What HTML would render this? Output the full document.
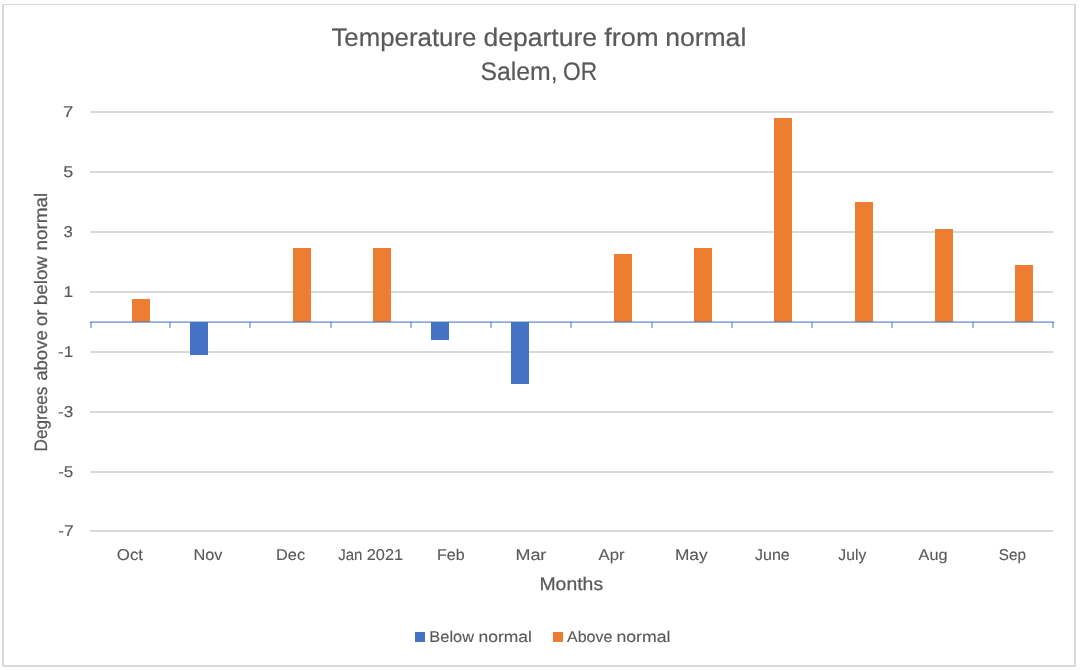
<!DOCTYPE html>
<html lang="en"><head><meta charset="utf-8"><title>Temperature departure from normal - Salem, OR</title>
<style>html,body{margin:0;padding:0;background:#fff;}body{width:1080px;height:670px;overflow:hidden;}svg{display:block;}text{font-family:"Liberation Sans",sans-serif;fill:#595959;stroke:#595959;text-rendering:geometricPrecision;}.title{font-size:25.4px;stroke-width:.2px}.lab{font-size:15.6px;stroke-width:.12px}.axt{font-size:18px;stroke-width:.25px}</style>
</head><body>
<svg width="1080" height="670" viewBox="0 0 1080 670">
<rect x="0" y="0" width="1080" height="670" fill="#ffffff"/>
<g fill="#d9d9d9" shape-rendering="crispEdges">
<rect x="2" y="4" width="1074" height="1"/>
<rect x="2" y="665" width="1074" height="2"/>
<rect x="2" y="4" width="2" height="663"/>
<rect x="1074" y="4" width="2" height="663"/>
<rect x="2" y="666" width="1" height="1" fill="#f2f2f2"/>
<rect x="1075" y="666" width="1" height="1" fill="#f2f2f2"/>
<rect x="90" y="111" width="963" height="2"/>
<rect x="90" y="171" width="963" height="2"/>
<rect x="90" y="231" width="963" height="2"/>
<rect x="90" y="291" width="963" height="2"/>
<rect x="90" y="351" width="963" height="2"/>
<rect x="90" y="411" width="963" height="2"/>
<rect x="90" y="471" width="963" height="2"/>
<rect x="90" y="530" width="963" height="2"/>
</g>
<g shape-rendering="crispEdges">
<rect x="132" y="299" width="18" height="23" fill="#ed7d31"/>
<rect x="190" y="322" width="18" height="33" fill="#4472c4"/>
<rect x="293" y="248" width="18" height="74" fill="#ed7d31"/>
<rect x="373" y="248" width="18" height="74" fill="#ed7d31"/>
<rect x="431" y="322" width="18" height="18" fill="#4472c4"/>
<rect x="511" y="322" width="18" height="62" fill="#4472c4"/>
<rect x="614" y="254" width="18" height="68" fill="#ed7d31"/>
<rect x="694" y="248" width="18" height="74" fill="#ed7d31"/>
<rect x="774" y="118" width="18" height="204" fill="#ed7d31"/>
<rect x="855" y="202" width="18" height="120" fill="#ed7d31"/>
<rect x="935" y="229" width="18" height="93" fill="#ed7d31"/>
<rect x="1015" y="265" width="18" height="57" fill="#ed7d31"/>
</g>
<g fill="#4472c4" shape-rendering="crispEdges">
<rect x="90" y="321" width="964" height="1" fill-opacity="0.45"/>
<rect x="90" y="322" width="964" height="1" fill-opacity="0.6"/>
<rect x="90" y="322" width="2" height="6" fill-opacity="0.5"/>
<rect x="169" y="322" width="2" height="6" fill-opacity="0.5"/>
<rect x="249" y="322" width="2" height="6" fill-opacity="0.5"/>
<rect x="330" y="322" width="2" height="6" fill-opacity="0.5"/>
<rect x="410" y="322" width="2" height="6" fill-opacity="0.5"/>
<rect x="490" y="322" width="2" height="6" fill-opacity="0.5"/>
<rect x="570" y="322" width="2" height="6" fill-opacity="0.5"/>
<rect x="651" y="322" width="2" height="6" fill-opacity="0.5"/>
<rect x="731" y="322" width="2" height="6" fill-opacity="0.5"/>
<rect x="811" y="322" width="2" height="6" fill-opacity="0.5"/>
<rect x="891" y="322" width="2" height="6" fill-opacity="0.5"/>
<rect x="972" y="322" width="2" height="6" fill-opacity="0.5"/>
<rect x="1052" y="322" width="2" height="6" fill-opacity="0.5"/>
</g>
<rect x="415" y="632" width="10" height="10" fill="#4472c4" shape-rendering="crispEdges"/>
<rect x="553" y="632" width="10" height="10" fill="#ed7d31" shape-rendering="crispEdges"/>
<text class="title" transform="matrix(1.0165 0 0 1 331.47 46)">Temperature</text>
<text class="title" transform="matrix(1.0456 0 0 1 483.47 46)">departure</text>
<text class="title" transform="matrix(1.0708 0 0 1 604.26 46)">from</text>
<text class="title" transform="matrix(1.0456 0 0 1 665.13 46)">normal</text>
<text class="title" transform="matrix(0.9769 0 0 1 480.41 79.8)">Salem,</text>
<text class="title" transform="matrix(0.8959 0 0 1 563.11 79.8)">OR</text>
<text class="lab" transform="matrix(1.1827 0 0 1 63.03 117.1)">7</text>
<text class="lab" transform="matrix(1.1515 0 0 1 63.22 177.1)">5</text>
<text class="lab" transform="matrix(1.0696 0 0 1 63.55 237.1)">3</text>
<text class="lab" transform="matrix(1.1138 0 0 1 63.40 297.1)">1</text>
<text class="lab" transform="matrix(1.0988 0 0 1 58.06 357.1)">-1</text>
<text class="lab" transform="matrix(1.0992 0 0 1 58.06 417.1)">-3</text>
<text class="lab" transform="matrix(1.0911 0 0 1 58.17 477.1)">-5</text>
<text class="lab" transform="matrix(1.1163 0 0 1 58.24 536.1)">-7</text>
<text class="lab" transform="matrix(1.0797 0 0 1 116.83 560.2)">Oct</text>
<text class="lab" transform="matrix(1.0476 0 0 1 193.43 560.2)">Nov</text>
<text class="lab" transform="matrix(1.0501 0 0 1 275.98 560.2)">Dec</text>
<text class="lab" transform="matrix(0.9643 0 0 1 338.23 560.2)">Jan</text>
<text class="lab" transform="matrix(1.0469 0 0 1 366.72 560.2)">2021</text>
<text class="lab" transform="matrix(1.0250 0 0 1 437.06 560.2)">Feb</text>
<text class="lab" transform="matrix(1.1491 0 0 1 515.46 560.2)">Mar</text>
<text class="lab" transform="matrix(1.0736 0 0 1 598.58 560.2)">Apr</text>
<text class="lab" transform="matrix(1.1096 0 0 1 674.89 560.2)">May</text>
<text class="lab" transform="matrix(1.0256 0 0 1 755.00 560.2)">June</text>
<text class="lab" transform="matrix(1.0067 0 0 1 838.32 560.2)">July</text>
<text class="lab" transform="matrix(1.0395 0 0 1 918.60 560.2)">Aug</text>
<text class="lab" transform="matrix(0.9762 0 0 1 998.79 560.2)">Sep</text>
<text class="axt" transform="matrix(1.0785 0 0 1 539.45 589.9)">Months</text>
<text class="lab" transform="matrix(1.0501 0 0 1 429.37 641.8)">Below</text>
<text class="lab" transform="matrix(1.1192 0 0 1 478.47 641.8)">normal</text>
<text class="lab" transform="matrix(1.0231 0 0 1 567.03 641.8)">Above</text>
<text class="lab" transform="matrix(1.1362 0 0 1 616.39 641.8)">normal</text>
<text class="axt" transform="matrix(0 -0.9523 1 0 47.2 451.42)">Degrees</text>
<text class="axt" transform="matrix(0 -1.0333 1 0 47.2 380.83)">above</text>
<text class="axt" transform="matrix(0 -1.0138 1 0 47.2 325.90)">or</text>
<text class="axt" transform="matrix(0 -1.0430 1 0 47.2 305.15)">below</text>
<text class="axt" transform="matrix(0 -1.0495 1 0 47.2 250.45)">normal</text>
</svg>
</body></html>
